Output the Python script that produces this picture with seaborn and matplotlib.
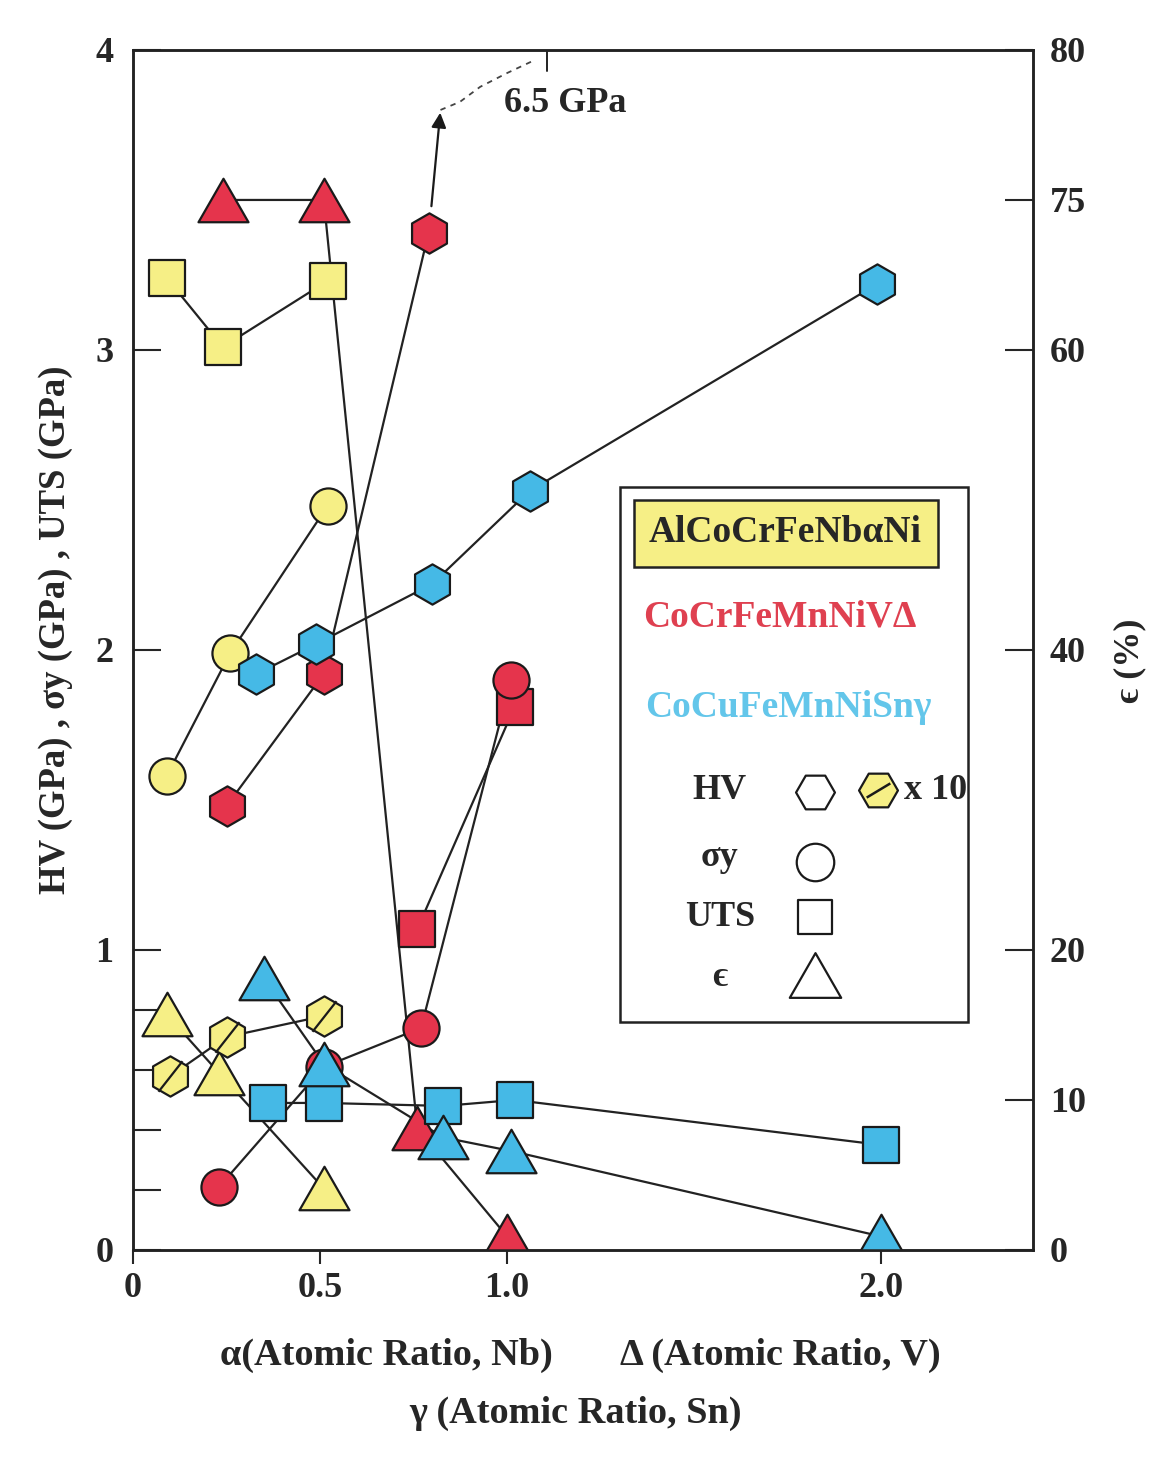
import numpy as np
import matplotlib
matplotlib.use("Agg")
import matplotlib.pyplot as plt
from matplotlib.path import Path
from matplotlib.patches import Rectangle
import seaborn as sns

# ---- values ----
# AlCoCrFeNbαNi  (x = α, atomic ratio Nb)
yel_hv_x = [0.10, 0.25, 0.51]
yel_hv = [0.58, 0.71, 0.78]          # plotted as HV x10 symbols
yel_sy_x = [0.09, 0.26, 0.52]
yel_sy = [1.58, 1.99, 2.48]
yel_uts_x = [0.09, 0.24, 0.52]
yel_uts = [3.24, 3.01, 3.23]
yel_eps_x = [0.09, 0.23, 0.51]
yel_eps = [15.7, 11.8, 4.1]          # %

# CoCrFeMnNiVΔ  (x = Δ, atomic ratio V)
red_hv_x = [0.25, 0.51, 0.79]
red_hv = [1.48, 1.92, 3.39]          # next point (Δ=1.0) is 6.5 GPa, off scale
red_sy_x = [0.23, 0.51, 0.77, 1.01]
red_sy = [0.21, 0.61, 0.74, 1.90]
red_uts_x = [0.76, 1.02]
red_uts = [1.07, 1.81]
red_eps_x = [0.24, 0.51, 0.76, 1.00]
red_eps = [75.0, 75.0, 8.1, 0.9]

# CoCuFeMnNiSnγ  (x = γ, atomic ratio Sn)
blu_hv_x = [0.33, 0.49, 0.80, 1.06, 1.99]
blu_hv = [1.92, 2.02, 2.22, 2.53, 3.22]
blu_uts_x = [0.36, 0.51, 0.83, 1.02, 2.00]
blu_uts = [0.49, 0.49, 0.48, 0.50, 0.35]
blu_eps_x = [0.35, 0.51, 0.83, 1.01, 2.00]
blu_eps = [18.1, 12.4, 7.5, 6.6, 0.9]

# right axis (ε) is drawn by hand: labels sit on the left-axis grid
eps_labels = [0, 10, 20, 40, 60, 75, 80]
eps_pos = [0, 0.5, 1, 2, 3, 3.5, 4]

YELLOW = "#F6EF86"
RED = "#E5344C"
BLUE = "#45B9E6"
INK = "#1a1a1a"

sns.set_style("white")
plt.rcParams["font.family"] = ["Liberation Serif", "DejaVu Serif"]
plt.rcParams["font.weight"] = "bold"

tri = Path([(-1, -0.87), (1, -0.87), (0, 0.87), (-1, -0.87)],
           [Path.MOVETO, Path.LINETO, Path.LINETO, Path.CLOSEPOLY])
slash = Path([(-0.55, -0.7), (0.55, 0.7)])
slash_flat = Path([(-1, -0.6), (1, 0.6)])

fig = plt.figure(figsize=(11.74, 14.65), dpi=100)
ax = fig.add_axes([0.1133, 0.1468, 0.7666, 0.8191])


def eps_y(v):
    return np.interp(v, eps_labels, eps_pos)


def series(x, y, marker, size, fill):
    sns.lineplot(x=x, y=y, ax=ax, color="#222222", lw=1.6, sort=False,
                 estimator=None, zorder=2)
    sns.scatterplot(x=x, y=y, ax=ax, marker=marker, s=size ** 2, color=fill,
                    edgecolor=INK, linewidth=1.6, zorder=3)


# yellow
series(yel_uts_x, yel_uts, "s", 26, YELLOW)
series(yel_sy_x, yel_sy, "o", 26, YELLOW)
series(yel_eps_x, eps_y(yel_eps), tri, 36, YELLOW)
series(yel_hv_x, yel_hv, "h", 29, YELLOW)
sns.scatterplot(x=yel_hv_x, y=yel_hv, ax=ax, marker=slash, s=22 ** 2,
                color=INK, edgecolor=INK, linewidth=1.6, zorder=4)

# red
series(red_eps_x, eps_y(red_eps), tri, 36, RED)
series(red_hv_x, red_hv, "h", 29, RED)
series(red_uts_x, red_uts, "s", 26, RED)
series(red_sy_x, red_sy, "o", 26, RED)

# blue
series(blu_hv_x, blu_hv, "h", 29, BLUE)
series(blu_uts_x, blu_uts, "s", 26, BLUE)
series(blu_eps_x, eps_y(blu_eps), tri, 36, BLUE)

# off-scale HV of CoCrFeMnNiV1.0
ax.annotate("", xy=(0.822, 3.80), xytext=(0.797, 3.47),
            arrowprops=dict(arrowstyle="-|>", color=INK, lw=1.6,
                            mutation_scale=22))
ax.plot([0.822, 0.874, 0.928, 1.0, 1.075], [3.80, 3.827, 3.877, 3.923, 3.967],
        ls=(0, (3, 3)), color="#444444", lw=1.3, clip_on=False)
ax.plot([1.107, 1.107], [3.93, 4.0], color="#222222", lw=1.4)
ax.text(1.155, 3.82, "6.5 GPa", fontsize=26, ha="center", va="center")

ax.set_xlim(0, 2.406)
ax.set_ylim(0, 4)
ax.set_xticks([0, 0.5, 1.0, 2.0], ["0", "0.5", "1.0", "2.0"])
ax.set_yticks([0, 1, 2, 3, 4], ["0", "1", "2", "3", "4"])
ax.set_yticks([0.2, 0.4, 0.6, 0.8], minor=True)
ax.tick_params(axis="x", direction="out", length=10, width=1.5, pad=6,
               labelsize=26, bottom=True)
ax.tick_params(axis="y", which="both", direction="in", length=20, width=1.5,
               pad=14, labelsize=26, left=True)
for sp in ax.spines.values():
    sp.set_linewidth(1.8)
    sp.set_color("#222222")

ax2 = ax.twinx()
ax2.set_ylim(0, 4)
ax2.set_yticks(eps_pos, [str(v) for v in eps_labels])
ax2.tick_params(axis="y", direction="in", length=20, width=1.5, pad=12,
                labelsize=26, right=True)
for sp in ax2.spines.values():
    sp.set_linewidth(1.8)
    sp.set_color("#222222")

# axis titles
fig.text(0.047, 0.57, "HV (GPa) , σy (GPa) , UTS (GPa)", rotation=90,
         fontsize=26.5, ha="center", va="center")
fig.text(0.9625, 0.549, "ϵ (%)", rotation=90, fontsize=26,
         ha="center", va="center")
fig.text(0.329, 0.075, "α(Atomic Ratio, Nb)", fontsize=27.5, ha="center", va="center")
fig.text(0.665, 0.075, "Δ (Atomic Ratio, V)", fontsize=27.5, ha="center", va="center")
fig.text(0.49, 0.0355, "γ (Atomic Ratio, Sn)", fontsize=27.5, ha="center", va="center")

# hand-made key box
T = ax.transAxes
ax.add_patch(Rectangle((0.541, 0.19), 0.387, 0.446, transform=T, fill=False,
                       lw=1.8, ec="#222222", zorder=5))
ax.add_patch(Rectangle((0.557, 0.569), 0.337, 0.056, transform=T, fc=YELLOW,
                       lw=1.8, ec="#222222", zorder=5))
ax.text(0.724, 0.598, "AlCoCrFeNbαNi", transform=T, fontsize=27,
        ha="center", va="center", zorder=6)
ax.text(0.719, 0.5275, "CoCrFeMnNiVΔ", transform=T, fontsize=27,
        ha="center", va="center", color="#DF4050", zorder=6)
ax.text(0.728, 0.452, "CoCuFeMnNiSnγ", transform=T, fontsize=27,
        ha="center", va="center", color="#63C6EA", zorder=6)
for lab, yy in [("HV", 0.383), ("σy", 0.327), ("UTS", 0.277), ("ϵ", 0.227)]:
    ax.text(0.652, yy, lab, transform=T, fontsize=26, ha="center",
            va="center", zorder=6)
key = dict(transform=T, facecolor="white", edgecolor=INK,
           linewidths=1.6, zorder=6, clip_on=False)
ax.scatter([0.758], [0.382], marker="H", s=28 ** 2, **key)
ax.scatter([0.758], [0.323], marker="o", s=27 ** 2, **key)
ax.scatter([0.758], [0.2775], marker="s", s=24 ** 2, **key)
ax.scatter([0.758], [0.229], marker=tri, s=37 ** 2, **key)
ax.scatter([0.828], [0.383], marker="H", s=28 ** 2, transform=T,
           facecolor=YELLOW, edgecolor=INK, linewidths=1.6, zorder=6)
ax.scatter([0.828], [0.383], marker=slash_flat, s=17 ** 2, transform=T,
           color=INK, edgecolor=INK, linewidths=1.8, zorder=7)
ax.text(0.857, 0.383, "x 10", transform=T, fontsize=26, ha="left",
        va="center", zorder=6)

fig.savefig("out.png", dpi=100)
